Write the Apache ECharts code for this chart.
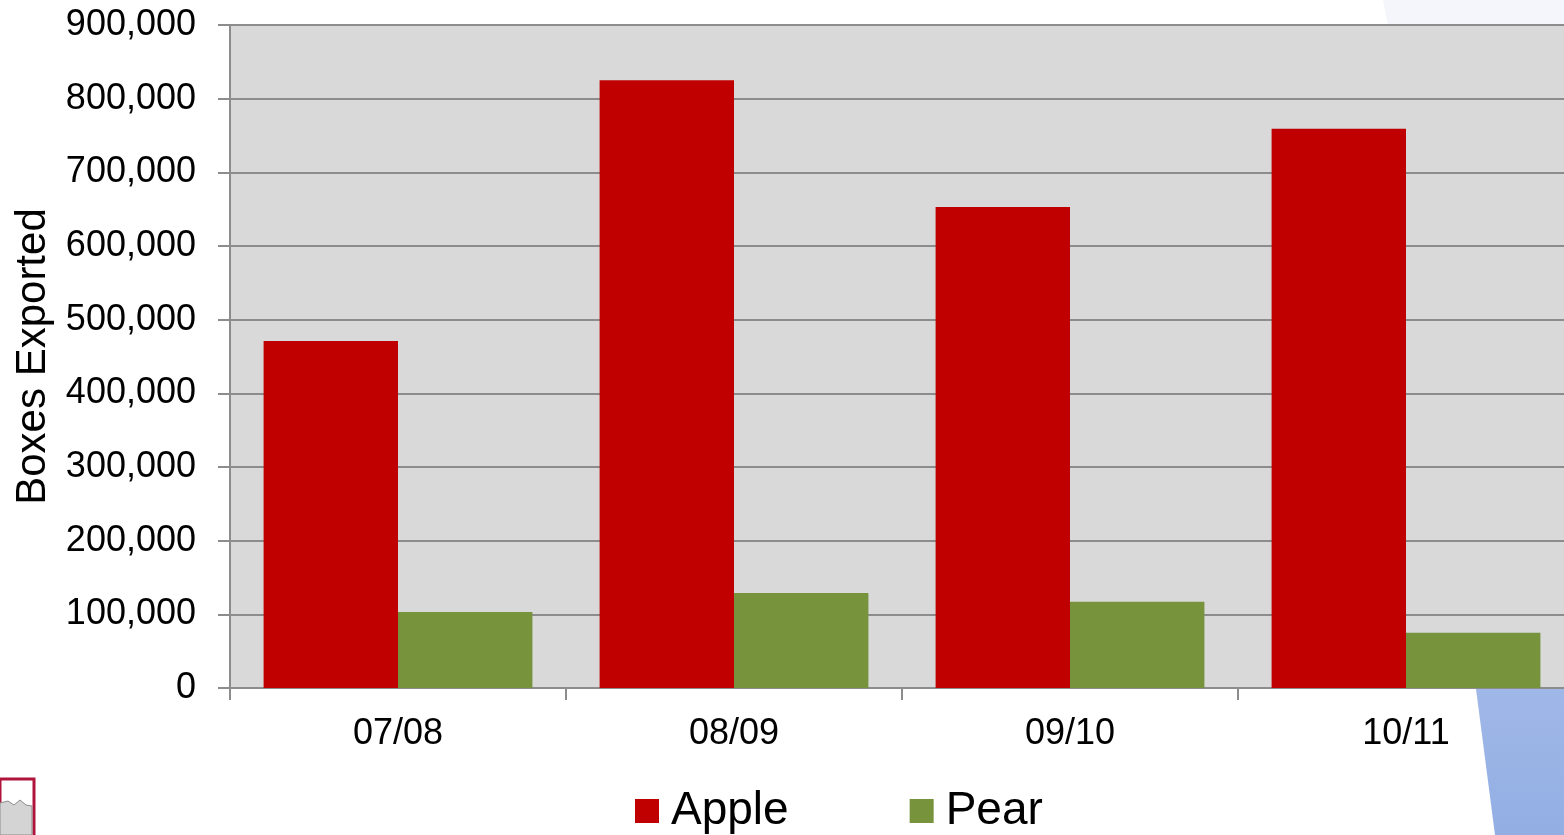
<!DOCTYPE html>
<html>
<head>
<meta charset="utf-8">
<script src="https://cdn.jsdelivr.net/npm/echarts@6/dist/echarts.min.js"></script>
<style>
  html, body { margin: 0; padding: 0; background: #fff; }
  #chart { width: 1564px; height: 835px; }
</style>
</head>
<body>
<div id="chart"></div>
<script>
// season labels
var seasons = ['07/08', '08/09', '09/10', '10/11']
// boxes exported
var appleBoxes = [471000, 825000, 653000, 759000]
var pearBoxes = [103000, 129000, 117000, 75000]

var chart = echarts.init(document.getElementById('chart'))
var font = 'Liberation Sans, Arial, sans-serif'

chart.setOption({
  animation: false,
  textStyle: { fontFamily: font },
  grid: {
    left: 230, right: -10, top: 25, bottom: 147,
    outerBoundsMode: 'none',
    show: true, backgroundColor: '#d9d9d9', borderWidth: 0
  },
  legend: {
    bottom: -4,
    left: 630,
    itemWidth: 24,
    itemHeight: 24,
    itemGap: 121,
    icon: 'rect',
    textStyle: { fontSize: 46, color: '#000', fontFamily: font, padding: [0, 0, 0, 7] },
    data: ['Apple', 'Pear']
  },
  xAxis: {
    type: 'category',
    data: seasons,
    axisLine: { lineStyle: { color: '#8c8c8c', width: 2 } },
    axisTick: { show: true, length: 12, lineStyle: { color: '#8c8c8c', width: 2 } },
    axisLabel: { fontSize: 36, color: '#000', margin: 28 }
  },
  yAxis: {
    type: 'value',
    min: 0,
    max: 900000,
    interval: 100000,
    name: 'Boxes Exported',
    nameLocation: 'middle',
    nameGap: 176,
    nameTextStyle: { fontSize: 42, color: '#000' },
    axisLine: { show: true, lineStyle: { color: '#8c8c8c', width: 2 } },
    axisTick: { show: true, length: 12, lineStyle: { color: '#8c8c8c', width: 2 } },
    splitLine: { lineStyle: { color: '#8c8c8c', width: 2 } },
    axisLabel: {
      fontSize: 36,
      color: '#000',
      margin: 34,
      formatter: function (v) { return v.toLocaleString('en-US') }
    }
  },
  series: [
    { name: 'Apple', type: 'bar', data: appleBoxes, itemStyle: { color: '#c00000' }, barGap: '0%', barCategoryGap: '20%' },
    { name: 'Pear', type: 'bar', data: pearBoxes, itemStyle: { color: '#77933c' }, barGap: '0%', barCategoryGap: '20%' }
  ],
  graphic: [
    // slide decoration, top right
    { type: 'polygon', z: -1, shape: { points: [[1383, 0], [1564, 0], [1564, 25], [1388, 25]] }, style: { fill: '#f4f6fc' } },
    // slide decoration, bottom right
    {
      type: 'polygon', z: 10,
      shape: { points: [[1476, 689], [1564, 689], [1564, 835], [1495, 835]] },
      style: { fill: new echarts.graphic.LinearGradient(0, 0, 0, 1, [{ offset: 0, color: '#a0b8e8' }, { offset: 1, color: '#92aee3' }]) }
    },
    // logo corner, bottom left
    { type: 'rect', shape: { x: 0, y: 779, width: 34, height: 60 }, style: { fill: '#fff', stroke: '#b0143c', lineWidth: 3 } },
    { type: 'polygon', shape: { points: [[0, 803], [8, 801], [14, 805], [20, 800], [26, 805], [32, 806], [32, 835], [0, 835]] }, style: { fill: '#d4d4d4', stroke: '#8c8c8c', lineWidth: 1 } }
  ]
})
</script>
</body>
</html>
